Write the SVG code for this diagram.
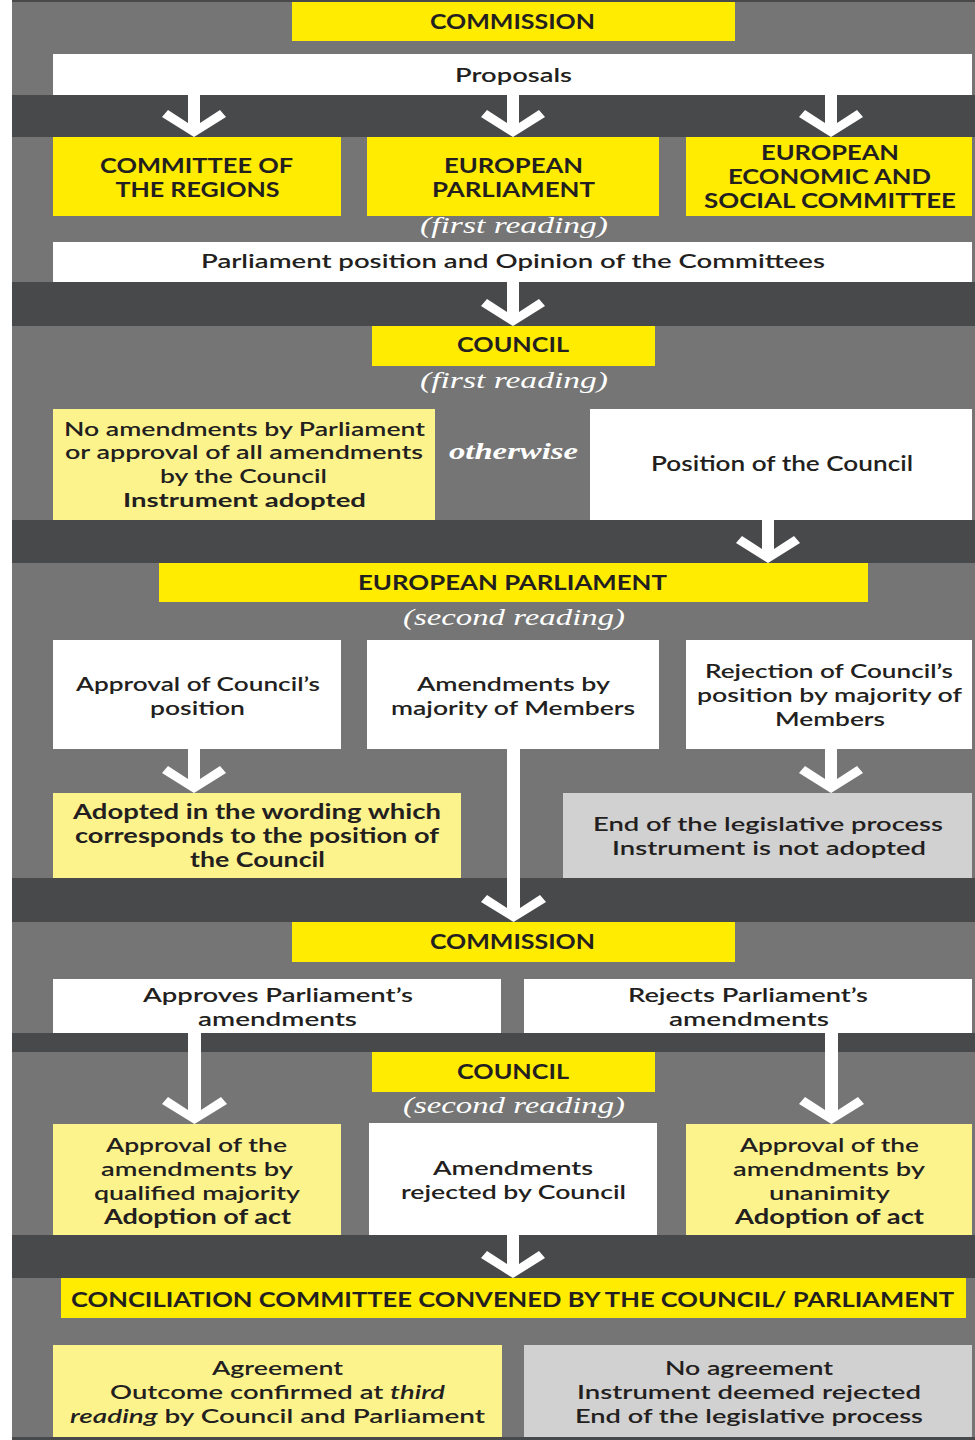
<svg xmlns="http://www.w3.org/2000/svg" width="975" height="1440" viewBox="0 0 975 1440">
<style>
.bg{fill:#747574}
.band{fill:#48494b}
.y{fill:#ffec00}
.ly{fill:#fdf38d}
.w{fill:#ffffff}
.g{fill:#d1d1d1}
.arrow{fill:#ffffff}
.t{font-family:Lato,'Open Sans','Liberation Sans',sans-serif;font-size:20px;font-weight:600;fill:#231f20;text-anchor:middle}
.h{font-size:21px;font-weight:700}
.h2{font-size:20px;font-weight:700}
.b{font-weight:700}
.s{font-size:19px}
.it{font-family:'Liberation Serif',serif;font-style:italic;font-size:23px;fill:#ffffff;text-anchor:middle}
</style>
<rect x="0" y="0" width="975" height="1440" fill="#ffffff"/>
<rect class="bg" x="12" y="0" width="963" height="1440"/>
<rect class="band" x="12" y="0" width="963" height="2"/>
<rect class="band" x="12" y="95" width="963" height="42"/>
<rect class="band" x="12" y="282" width="963" height="44"/>
<rect class="band" x="12" y="520" width="963" height="43"/>
<rect class="band" x="12" y="878" width="963" height="44"/>
<rect class="band" x="12" y="1033" width="963" height="19"/>
<rect class="band" x="12" y="1235" width="963" height="43"/>
<rect class="band" x="12" y="1437" width="963" height="3"/>

<g id="connectors">
<polygon class="arrow" points="188,95 200,95 200,123 220,110 226,117 194,137 162,117 168,110 188,123"/>
<polygon class="arrow" points="507,95 519,95 519,123 539,110 545,117 513,137 481,117 487,110 507,123"/>
<polygon class="arrow" points="825,95 837,95 837,123 857,110 863,117 831,137 799,117 805,110 825,123"/>
<polygon class="arrow" points="507,282 519,282 519,312 539,299 545,306 513,326 481,306 487,299 507,312"/>
<polygon class="arrow" points="762,520 774,520 774,549 794,536 800,543 768,563 736,543 742,536 762,549"/>
<polygon class="arrow" points="188,749 200,749 200,779 220,766 226,773 194,793 162,773 168,766 188,779"/>
<polygon class="arrow" points="825,749 837,749 837,779 857,766 863,773 831,793 799,773 805,766 825,779"/>
<polygon class="arrow" points="507,749 520,749 520,908 540,895 546,902 513.5,922 481,902 487,895 507,908"/>
<polygon class="arrow" points="188,1033 201,1033 201,1110 221,1097 227,1104 194.5,1124 162,1104 168,1097 188,1110"/>
<polygon class="arrow" points="825,1033 838,1033 838,1110 858,1097 864,1104 831.5,1124 799,1104 805,1097 825,1110"/>
<polygon class="arrow" points="507,1235 519,1235 519,1264 539,1251 545,1258 513,1278 481,1258 487,1251 507,1264"/>
</g>

<g id="commission1">
<rect class="y" x="292" y="2" width="443" height="39"/>
<text class="t h" x="512.5" y="28.5" textLength="165" lengthAdjust="spacingAndGlyphs">COMMISSION</text>
</g>
<g id="proposals">
<rect class="w" x="53" y="54" width="919" height="41"/>
<text class="t" x="513.5" y="82" textLength="117" lengthAdjust="spacingAndGlyphs">Proposals</text>
</g>
<g id="committee-regions">
<rect class="y" x="53" y="137" width="288" height="79"/>
<text class="t h2" x="196.5" y="173" textLength="193" lengthAdjust="spacingAndGlyphs">COMMITTEE OF</text>
<text class="t h2" x="197.5" y="197" textLength="164" lengthAdjust="spacingAndGlyphs">THE REGIONS</text>
</g>
<g id="ep1">
<rect class="y" x="367" y="137" width="292" height="79"/>
<text class="t h2" x="513.5" y="173" textLength="139" lengthAdjust="spacingAndGlyphs">EUROPEAN</text>
<text class="t h2" x="513.5" y="197" textLength="163" lengthAdjust="spacingAndGlyphs">PARLIAMENT</text>
<text class="it" x="514" y="233" textLength="188" lengthAdjust="spacingAndGlyphs">(first reading)</text>
</g>
<g id="eesc">
<rect class="y" x="686" y="137" width="286" height="79"/>
<text class="t h2" x="830" y="160" textLength="138" lengthAdjust="spacingAndGlyphs">EUROPEAN</text>
<text class="t h2" x="829.5" y="184" textLength="203" lengthAdjust="spacingAndGlyphs">ECONOMIC AND</text>
<text class="t h2" x="830" y="208" textLength="252" lengthAdjust="spacingAndGlyphs">SOCIAL COMMITTEE</text>
</g>
<g id="parl-position">
<rect class="w" x="53" y="242" width="919" height="40"/>
<text class="t" x="513" y="268" textLength="624" lengthAdjust="spacingAndGlyphs">Parliament position and Opinion of the Committees</text>
</g>
<g id="council1">
<rect class="y" x="372" y="326" width="283" height="40"/>
<text class="t h" x="513" y="352" textLength="112" lengthAdjust="spacingAndGlyphs">COUNCIL</text>
<text class="it" x="514" y="388" textLength="188" lengthAdjust="spacingAndGlyphs">(first reading)</text>
</g>
<g id="no-amendments">
<rect class="ly" x="53" y="409" width="382" height="111"/>
<text class="t s" x="244.5" y="435.5" textLength="361" lengthAdjust="spacingAndGlyphs">No amendments by Parliament</text>
<text class="t s" x="244" y="459" textLength="358" lengthAdjust="spacingAndGlyphs">or approval of all amendments</text>
<text class="t s" x="243.5" y="483" textLength="167" lengthAdjust="spacingAndGlyphs">by the Council</text>
<text class="t s b" x="244.5" y="507" textLength="243" lengthAdjust="spacingAndGlyphs">Instrument adopted</text>
</g>
<g id="otherwise">
<text class="it" style="font-weight:700;font-size:23px" x="513.5" y="459" textLength="129" lengthAdjust="spacingAndGlyphs">otherwise</text>
</g>
<g id="position-council">
<rect class="w" x="590" y="409" width="382" height="111"/>
<text class="t" style="font-size:21px" x="782" y="471" textLength="262" lengthAdjust="spacingAndGlyphs">Position of the Council</text>
</g>
<g id="ep2">
<rect class="y" x="159" y="563" width="709" height="39"/>
<text class="t h" x="512.5" y="590" textLength="309" lengthAdjust="spacingAndGlyphs">EUROPEAN PARLIAMENT</text>
<text class="it" x="514" y="625" textLength="222" lengthAdjust="spacingAndGlyphs">(second reading)</text>
</g>
<g id="approval-council-pos">
<rect class="w" x="53" y="640" width="288" height="109"/>
<text class="t" x="198" y="691" textLength="244" lengthAdjust="spacingAndGlyphs">Approval of Council’s</text>
<text class="t" x="197.5" y="715" textLength="95" lengthAdjust="spacingAndGlyphs">position</text>
</g>
<g id="amendments-majority">
<rect class="w" x="367" y="640" width="292" height="109"/>
<text class="t" x="513.5" y="691" textLength="193" lengthAdjust="spacingAndGlyphs">Amendments by</text>
<text class="t" x="513" y="715" textLength="244" lengthAdjust="spacingAndGlyphs">majority of Members</text>
</g>
<g id="rejection">
<rect class="w" x="686" y="640" width="286" height="109"/>
<text class="t" x="829" y="678" textLength="248" lengthAdjust="spacingAndGlyphs">Rejection of Council’s</text>
<text class="t" x="829.5" y="702" textLength="265" lengthAdjust="spacingAndGlyphs">position by majority of</text>
<text class="t" x="830" y="726" textLength="110" lengthAdjust="spacingAndGlyphs">Members</text>
</g>
<g id="adopted-wording">
<rect class="ly" x="53" y="793" width="408" height="85"/>
<text class="t b" x="257" y="819" textLength="368" lengthAdjust="spacingAndGlyphs">Adopted in the wording which</text>
<text class="t b" x="257" y="843" textLength="364" lengthAdjust="spacingAndGlyphs">corresponds to the position of</text>
<text class="t b" x="257.5" y="867" textLength="135" lengthAdjust="spacingAndGlyphs">the Council</text>
</g>
<g id="end-process1">
<rect class="g" x="563" y="793" width="409" height="85"/>
<text class="t" x="768" y="831" textLength="350" lengthAdjust="spacingAndGlyphs">End of the legislative process</text>
<text class="t" x="769" y="855" textLength="314" lengthAdjust="spacingAndGlyphs">Instrument is not adopted</text>
</g>
<g id="commission2">
<rect class="y" x="292" y="922" width="443" height="40"/>
<text class="t h" x="512.5" y="949" textLength="165" lengthAdjust="spacingAndGlyphs">COMMISSION</text>
</g>
<g id="approves">
<rect class="w" x="53" y="979" width="448" height="54"/>
<text class="t" x="278" y="1001.5" textLength="270" lengthAdjust="spacingAndGlyphs">Approves Parliament’s</text>
<text class="t" x="277.5" y="1025.5" textLength="159" lengthAdjust="spacingAndGlyphs">amendments</text>
</g>
<g id="rejects">
<rect class="w" x="524" y="979" width="448" height="54"/>
<text class="t" x="748" y="1001.5" textLength="240" lengthAdjust="spacingAndGlyphs">Rejects Parliament’s</text>
<text class="t" x="749" y="1025.5" textLength="160" lengthAdjust="spacingAndGlyphs">amendments</text>
</g>
<g id="council2">
<rect class="y" x="372" y="1052" width="283" height="40"/>
<text class="t h" x="513" y="1079" textLength="112" lengthAdjust="spacingAndGlyphs">COUNCIL</text>
<text class="it" x="514" y="1113" textLength="222" lengthAdjust="spacingAndGlyphs">(second reading)</text>
</g>
<g id="approval-qualified">
<rect class="ly" x="53" y="1124" width="288" height="111"/>
<text class="t" x="196.5" y="1152" textLength="181" lengthAdjust="spacingAndGlyphs">Approval of the</text>
<text class="t" x="197" y="1176" textLength="192" lengthAdjust="spacingAndGlyphs">amendments by</text>
<text class="t" x="197" y="1200" textLength="206" lengthAdjust="spacingAndGlyphs">qualified majority</text>
<text class="t b" x="197.5" y="1224" textLength="187" lengthAdjust="spacingAndGlyphs">Adoption of act</text>
</g>
<g id="amendments-rejected">
<rect class="w" x="369" y="1123" width="288" height="112"/>
<text class="t" x="513" y="1175" textLength="160" lengthAdjust="spacingAndGlyphs">Amendments</text>
<text class="t" x="513.5" y="1199" textLength="225" lengthAdjust="spacingAndGlyphs">rejected by Council</text>
</g>
<g id="approval-unanimity">
<rect class="ly" x="686" y="1124" width="286" height="111"/>
<text class="t" x="829.5" y="1152" textLength="179" lengthAdjust="spacingAndGlyphs">Approval of the</text>
<text class="t" x="829" y="1176" textLength="192" lengthAdjust="spacingAndGlyphs">amendments by</text>
<text class="t" x="829.5" y="1200" textLength="121" lengthAdjust="spacingAndGlyphs">unanimity</text>
<text class="t b" x="829.5" y="1224" textLength="189" lengthAdjust="spacingAndGlyphs">Adoption of act</text>
</g>
<g id="conciliation">
<rect class="y" x="61" y="1278" width="905" height="40"/>
<text class="t h" x="512.5" y="1306.5" textLength="883" lengthAdjust="spacingAndGlyphs">CONCILIATION COMMITTEE CONVENED BY THE COUNCIL/ PARLIAMENT</text>
</g>
<g id="agreement">
<rect class="ly" x="53" y="1345" width="449" height="92"/>
<text class="t" x="277.5" y="1375" textLength="131" lengthAdjust="spacingAndGlyphs">Agreement</text>
<text class="t" x="277.5" y="1399" textLength="335" lengthAdjust="spacingAndGlyphs">Outcome confirmed at <tspan font-style="italic">third</tspan></text>
<text class="t" x="277.5" y="1423" textLength="415" lengthAdjust="spacingAndGlyphs"><tspan font-style="italic">reading</tspan> by Council and Parliament</text>
</g>
<g id="no-agreement">
<rect class="g" x="524" y="1345" width="448" height="92"/>
<text class="t" x="749" y="1375" textLength="168" lengthAdjust="spacingAndGlyphs">No agreement</text>
<text class="t" x="749" y="1399" textLength="344" lengthAdjust="spacingAndGlyphs">Instrument deemed rejected</text>
<text class="t" x="749" y="1423" textLength="348" lengthAdjust="spacingAndGlyphs">End of the legislative process</text>
</g>
</svg>
